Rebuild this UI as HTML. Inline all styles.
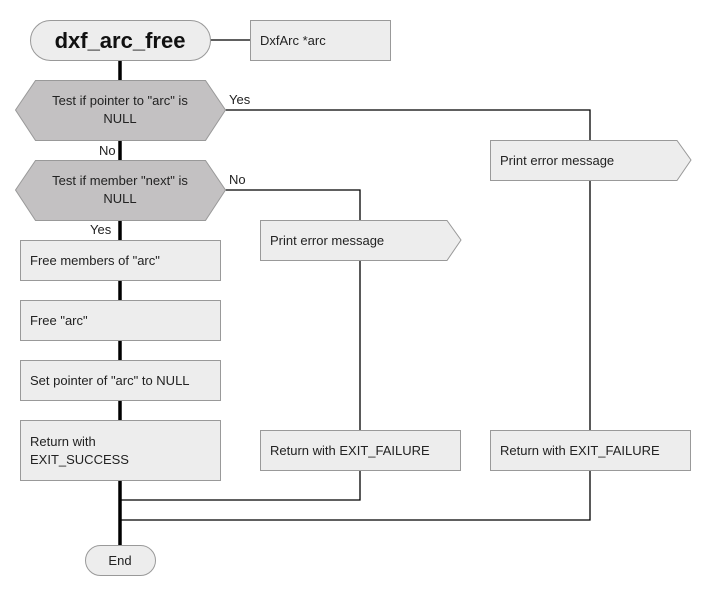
<!DOCTYPE html>
<html><head><meta charset="utf-8"><style>
html,body{margin:0;padding:0;background:#fff;width:710px;height:600px;overflow:hidden}
svg text{font-family:"Liberation Sans",Arial,sans-serif;font-size:13px;fill:#222}
</style></head><body>
<svg width="710" height="600" viewBox="0 0 710 600" xmlns="http://www.w3.org/2000/svg">
<!-- thin connectors -->
<g stroke="#000" stroke-width="1.3" fill="none">
<line x1="210" y1="40" x2="250" y2="40"/>
<polyline points="225,110 590,110 590,430"/>
<polyline points="225,190 360,190 360,430"/>
<polyline points="360,470 360,500 120,500"/>
<polyline points="590,470 590,520 120,520"/>
</g>
<!-- thick trunk -->
<line x1="120" y1="60" x2="120" y2="545" stroke="#000" stroke-width="3.5"/>
<!-- shapes -->
<g stroke="#999" stroke-width="1">
<rect x="30.5" y="20.5" width="180" height="40" rx="20" fill="#ededed"/>
<rect x="250.5" y="20.5" width="140" height="40" fill="#ededed"/>
<polygon points="15.5,110 35.5,80.5 205.5,80.5 225.5,110 205.5,140.5 35.5,140.5" fill="#c3c1c2"/>
<polygon points="15.5,190 35.5,160.5 205.5,160.5 225.5,190 205.5,220.5 35.5,220.5" fill="#c3c1c2"/>
<rect x="20.5" y="240.5" width="200" height="40" fill="#ededed"/>
<rect x="20.5" y="300.5" width="200" height="40" fill="#ededed"/>
<rect x="20.5" y="360.5" width="200" height="40" fill="#ededed"/>
<rect x="20.5" y="420.5" width="200" height="60" fill="#ededed"/>
<polygon points="260.5,220.5 447,220.5 461,240 447,260.5 260.5,260.5" fill="#ededed"/>
<polygon points="490.5,140.5 677,140.5 691,160 677,180.5 490.5,180.5" fill="#ededed"/>
<rect x="260.5" y="430.5" width="200" height="40" fill="#ededed"/>
<rect x="490.5" y="430.5" width="200" height="40" fill="#ededed"/>
<rect x="85.5" y="545.5" width="70" height="30" rx="15" fill="#ededed"/>
</g>
<!-- text -->
<text x="120" y="48" text-anchor="middle" style="font-size:22px;font-weight:bold;fill:#111">dxf_arc_free</text>
<text x="260" y="45">DxfArc *arc</text>
<text x="120" y="105" text-anchor="middle">Test if pointer to "arc" is</text>
<text x="120" y="123" text-anchor="middle">NULL</text>
<text x="120" y="185" text-anchor="middle">Test if member "next" is</text>
<text x="120" y="203" text-anchor="middle">NULL</text>
<text x="229" y="104">Yes</text>
<text x="229" y="184">No</text>
<text x="99" y="155">No</text>
<text x="90" y="234">Yes</text>
<text x="30" y="265">Free members of "arc"</text>
<text x="30" y="325">Free "arc"</text>
<text x="30" y="385">Set pointer of "arc" to NULL</text>
<text x="30" y="446">Return with</text>
<text x="30" y="464">EXIT_SUCCESS</text>
<text x="270" y="245">Print error message</text>
<text x="500" y="165">Print error message</text>
<text x="270" y="455">Return with EXIT_FAILURE</text>
<text x="500" y="455">Return with EXIT_FAILURE</text>
<text x="120" y="565" text-anchor="middle">End</text>
</svg>
</body></html>
